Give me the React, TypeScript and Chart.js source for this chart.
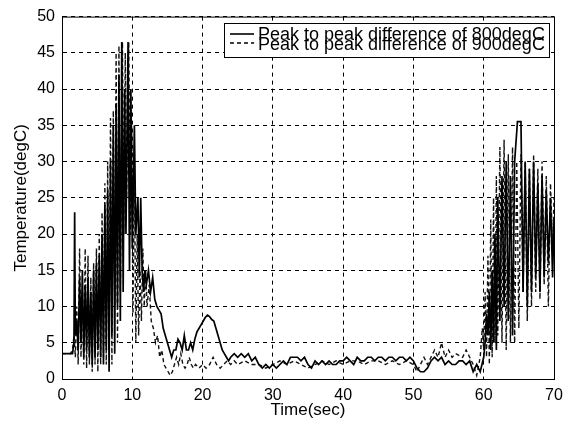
import React, { useEffect, useRef } from "react";
import { Chart, registerables } from "chart.js";

Chart.register(...registerables);

const xTicks = [0, 10, 20, 30, 40, 50, 60, 70];
const yTicks = [0, 5, 10, 15, 20, 25, 30, 35, 40, 45, 50];
const legendLabels = [
  "Peak to peak difference of 800degC",
  "Peak to peak difference of 900degC",
];

const time800 = [
  0, 0.5, 1, 1.5, 1.7, 1.8, 1.9, 2.1, 2.3, 2.5, 2.7, 2.9, 3.1, 3.3, 3.5, 3.7, 3.9, 4.1, 4.3, 4.5,
  4.7, 4.9, 5.1, 5.3, 5.5, 5.7, 5.9, 6.1, 6.3, 6.5, 6.7, 6.9, 7.1, 7.3, 7.5, 7.7, 7.9, 8.1, 8.3, 8.5,
  8.7, 8.9, 9.1, 9.4, 9.6, 9.8, 10.0, 10.3, 10.5, 10.8, 11.0, 11.2, 11.4, 11.6, 11.8, 12.0, 12.3, 12.6, 12.9, 13.2,
  13.5, 13.8, 14.1, 14.4, 14.7, 15.0, 15.3, 15.6, 15.9, 16.2, 16.5, 16.8, 17.1, 17.4, 17.7, 18.0, 18.3, 18.6, 18.9, 19.2,
  19.5, 19.8, 20.1, 20.4, 20.7, 21.0, 21.3, 21.6, 21.9, 22.2, 22.5, 22.8, 23.1, 23.4, 23.7, 24, 24.5, 25, 25.5, 26,
  26.5, 27, 27.5, 28, 28.5, 29, 29.5, 30, 30.5, 31, 31.5, 32, 32.5, 33, 33.5, 34, 34.5, 35, 35.5, 36,
  36.5, 37, 37.5, 38, 38.5, 39, 39.5, 40, 40.5, 41, 41.5, 42, 42.5, 43, 43.5, 44, 44.5, 45, 45.5, 46,
  46.5, 47, 47.5, 48, 48.5, 49, 49.5, 50, 50.5, 51, 51.5, 52, 52.5, 53, 53.5, 54, 54.5, 55, 55.5, 56,
  56.5, 57, 57.5, 58, 58.5, 59, 59.5, 60, 60.2, 60.4, 60.6, 60.8, 61.0, 61.2, 61.4, 61.6, 61.8, 62.0, 62.3, 62.6,
  62.9, 63.2, 63.5, 63.8, 64.1, 64.4, 64.8, 65.3, 65.6, 65.9, 66.2, 66.5, 66.8, 67.1, 67.4, 67.7, 68.0, 68.3, 68.6, 68.9,
  69.2, 69.5, 69.8, 70,
];
const temp800 = [
  3.5, 3.5, 3.5, 3.5, 5, 23, 6, 8, 4, 14, 5, 15, 3, 13, 4, 14, 3, 12, 2, 15,
  3, 16, 4, 17, 3, 20, 2, 24, 4, 26, 1, 30, 6, 35, 3.5, 38, 10, 42, 8, 46.5,
  12, 40, 20, 46.5, 15, 40, 18, 35, 20, 25, 14, 25, 15, 12, 15, 13, 15, 12, 14, 11,
  10, 9.5, 9, 7, 6, 5, 4, 3, 4, 4, 5.5, 5, 4, 6, 4, 4, 5, 4, 5.5, 6.5,
  7, 7.5, 8, 8.5, 8.8, 8.6, 8.2, 8, 7, 6, 5, 4, 3.5, 3, 2.5, 3, 3.5, 3, 3.5, 3,
  3.5, 2.5, 3, 2, 1.5, 2, 1.5, 2, 1.5, 2, 2.5, 2, 3, 3, 3, 2.5, 3, 2, 1.5, 2.5,
  2, 2.5, 2, 2.5, 2, 2, 2.5, 2.5, 3, 2.5, 2, 3, 2.5, 2.5, 3, 3, 2.5, 3, 3, 2.5,
  3, 3, 2.5, 3, 3, 2.5, 3, 2.5, 1.5, 1, 1, 1.5, 2.5, 3, 2.5, 3, 2, 2.5, 2, 2,
  2.5, 2.5, 2, 2.5, 1, 2, 1, 3, 5, 9, 6, 12, 4, 15, 5, 20, 4, 25, 8, 28,
  10, 30, 8, 28, 6, 30, 35.5, 35.5, 12, 30, 10, 29, 12, 30, 14, 27, 12, 28, 14, 26,
  16, 25, 14, 22,
];

const time900 = [
  0, 0.6, 1.2, 1.5, 1.7, 1.9, 2.1, 2.3, 2.5, 2.7, 2.9, 3.1, 3.3, 3.5, 3.7, 3.9, 4.1, 4.3, 4.5, 4.7,
  4.9, 5.1, 5.3, 5.5, 5.7, 5.9, 6.1, 6.3, 6.5, 6.7, 6.9, 7.1, 7.3, 7.5, 7.7, 7.9, 8.1, 8.3, 8.6, 8.8,
  9.0, 9.2, 9.5, 9.7, 9.9, 10.1, 10.3, 10.5, 10.7, 10.9, 11.1, 11.3, 11.5, 11.7, 11.9, 12.1, 12.4, 12.7, 13.0, 13.3,
  13.6, 13.9, 14.2, 14.5, 14.8, 15.1, 15.4, 15.7, 16.0, 16.3, 16.6, 16.9, 17.2, 17.5, 17.8, 18.1, 18.4, 18.7, 19.0, 19.5,
  20, 20.5, 21, 21.5, 22, 22.5, 23, 23.5, 24, 24.5, 25, 26, 27, 28, 29, 30, 31, 32, 33, 34,
  35, 36, 37, 38, 39, 40, 41, 42, 43, 44, 45, 46, 47, 48, 49, 50, 50.5, 51, 51.5, 52,
  52.5, 53, 53.5, 54, 54.5, 55, 55.5, 56, 57, 57.5, 58, 58.5, 59, 59.5, 59.8, 60.0, 60.2, 60.4, 60.6, 60.8,
  61.0, 61.2, 61.4, 61.6, 61.8, 62.0, 62.3, 62.6, 62.9, 63.2, 63.5, 63.8, 64.1, 64.4, 64.7, 65.0, 65.3, 65.6, 65.9, 66.2,
  66.5, 66.8, 67.1, 67.4, 67.7, 68.0, 68.3, 68.6, 68.9, 69.2, 69.5, 69.8, 70,
];
const temp900 = [
  3.5, 3.5, 3.5, 4, 6, 3, 10, 2, 18, 3, 12, 2, 18, 1.5, 17, 2, 14, 1, 16, 2,
  18, 1, 20, 2, 23, 3, 27, 2, 30, 4, 36, 2, 37, 10, 45, 5, 46, 12, 46.5, 20,
  45, 25, 46.5, 20, 35, 9, 30, 5, 20, 6, 15, 8, 18, 10, 15, 10, 13, 8, 7, 5,
  6, 3, 4, 2, 1.5, 1, 0.5, 1, 2, 3, 2, 3.5, 2, 1.5, 2, 3, 2, 1.5, 2, 1.5,
  2, 1.5, 2, 3, 2, 1.5, 2, 2.5, 2, 2.5, 2, 2.5, 2, 2, 1.5, 2, 2.5, 2, 2.5, 2,
  1.5, 2, 2.5, 2, 2.5, 2, 2.5, 2.5, 2, 2.5, 2.5, 2, 2.5, 2, 2.5, 2, 1, 2, 3, 2,
  3, 4, 3, 5, 3, 4, 3, 3.5, 3, 4, 3, 2, 0.5, 3, 7, 4, 12, 3, 17, 2,
  22, 3, 25, 5, 28, 6, 32, 5, 33, 4, 31, 5, 32, 5, 30, 7, 31, 12, 30, 8,
  29, 10, 31, 12, 29, 11, 30, 13, 28, 10, 27, 18, 25,
];

const toPoints = (xs: number[], ys: number[]) => xs.map((x, i) => ({ x, y: ys[i] }));

const frameAndLegend = {
  id: "frameAndLegend",
  afterDatasetsDraw(chart: any) {
    const { ctx, chartArea } = chart;
    ctx.save();
    ctx.strokeStyle = "#000";
    ctx.lineWidth = 1;
    ctx.setLineDash([]);
    ctx.strokeRect(chartArea.left + 0.5, chartArea.top + 0.5, chartArea.right - chartArea.left, chartArea.bottom - chartArea.top);

    const bx = 224, by = 23, bw = 325, bh = 34;
    ctx.fillStyle = "#fff";
    ctx.fillRect(bx, by, bw, bh);
    ctx.strokeRect(bx + 0.5, by + 0.5, bw, bh);

    ctx.lineWidth = 1.6;
    ctx.beginPath();
    ctx.moveTo(230, 34);
    ctx.lineTo(254, 34);
    ctx.stroke();
    ctx.lineWidth = 1.3;
    ctx.setLineDash([4, 3]);
    ctx.beginPath();
    ctx.moveTo(230, 43);
    ctx.lineTo(254, 43);
    ctx.stroke();
    ctx.setLineDash([]);

    ctx.fillStyle = "#000";
    ctx.font = "18px 'Liberation Sans', Arial, sans-serif";
    ctx.textBaseline = "alphabetic";
    ctx.textAlign = "left";
    ctx.fillText(legendLabels[0], 258, 40);
    ctx.fillText(legendLabels[1], 258, 50);
    ctx.restore();
  },
};

export default function App() {
  const ref = useRef<HTMLCanvasElement | null>(null);
  useEffect(() => {
    document.body.style.margin = "0";
    const canvas = ref.current;
    if (!canvas) return;
    const font = { family: "'Liberation Sans', Arial, sans-serif", size: 16 };
    const chart = new Chart(canvas, {
      type: "line",
      data: {
        datasets: [
          {
            label: legendLabels[0],
            data: toPoints(time800, temp800),
            borderColor: "#000",
            borderWidth: 1.7,
            pointRadius: 0,
            tension: 0,
          },
          {
            label: legendLabels[1],
            data: toPoints(time900, temp900),
            borderColor: "#111",
            borderWidth: 1.4,
            borderDash: [4, 3],
            pointRadius: 0,
            tension: 0,
          },
        ],
      },
      options: {
        animation: false,
        responsive: true,
        maintainAspectRatio: false,
        layout: { padding: { left: 0, top: 15, right: 19, bottom: 0 } },
        plugins: { legend: { display: false }, tooltip: { enabled: false } },
        scales: {
          x: {
            type: "linear",
            min: 0,
            max: 70,
            afterBuildTicks: (s: any) => {
              s.ticks = xTicks.map((v) => ({ value: v }));
            },
            afterFit: (s: any) => {
              s.height = 45;
            },
            ticks: { color: "#000", font, padding: 7, maxRotation: 0 },
            grid: { color: "#000", lineWidth: 1, drawTicks: false },
            border: { display: true, color: "#000", dash: [4, 4] },
            title: {
              display: true,
              text: "Time(sec)",
              color: "#000",
              font: { family: font.family, size: 17 },
              padding: { top: 0, bottom: 3 },
            },
          },
          y: {
            type: "linear",
            min: 0,
            max: 50,
            afterBuildTicks: (s: any) => {
              s.ticks = yTicks.map((v) => ({ value: v }));
            },
            afterFit: (s: any) => {
              s.width = 62;
            },
            ticks: { color: "#000", font, padding: 7 },
            grid: { color: "#000", lineWidth: 1, drawTicks: false },
            border: { display: true, color: "#000", dash: [4, 4] },
            title: {
              display: true,
              text: "Temperature(degC)",
              color: "#000",
              font: { family: font.family, size: 17 },
              padding: { top: 11, bottom: 0 },
            },
          },
        },
      },
      plugins: [frameAndLegend],
    } as any);
    return () => chart.destroy();
  }, []);
  return (
    <div style={{ position: "fixed", left: 0, top: 0, width: 573, height: 424, background: "#fff" }}>
      <canvas ref={ref} />
    </div>
  );
}
